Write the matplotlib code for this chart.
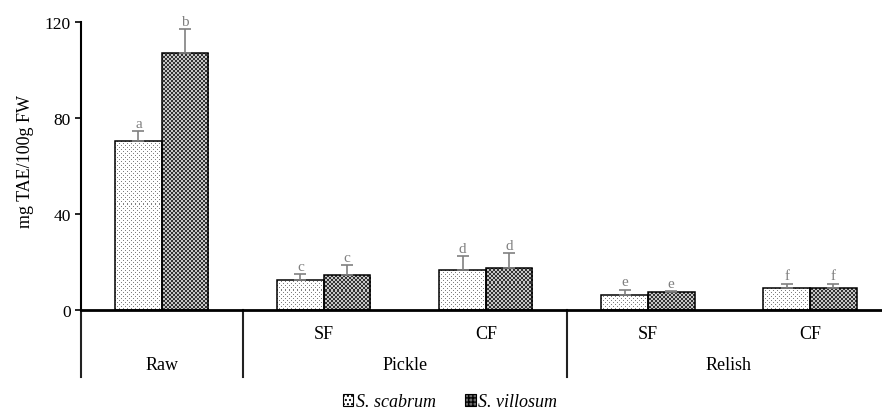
import numpy as np
import matplotlib
matplotlib.use("Agg")
import matplotlib.pyplot as plt
from matplotlib.patches import Patch
from matplotlib.transforms import blended_transform_factory

plt.rcParams['font.family'] = ['Liberation Serif', 'DejaVu Serif']

# ---- data ----
sub_labels = ['', 'SF', 'CF', 'SF', 'CF']
group_labels = ['Raw', 'Pickle', 'Relish']
group_spans = [(0, 0), (1, 2), (3, 4)]
series_names = ['S. scabrum', 'S. villosum']
scabrum = [70.5, 12.6, 16.5, 6.2, 9.0]
scabrum_err = [4.0, 2.4, 6.0, 2.2, 2.0]
villosum = [107.0, 14.6, 17.6, 7.4, 9.0]
villosum_err = [10.0, 4.0, 6.0, 0.5, 2.0]
scabrum_letters = ['a', 'c', 'd', 'e', 'f']
villosum_letters = ['b', 'c', 'd', 'e', 'f']
yticks = [0, 40, 80, 120]

W, H, DPI = 882, 414, 100
fig = plt.figure(figsize=(W / DPI, H / DPI), dpi=DPI)
left_px, right_px, top_px, bot_px = 80.7, 891.0, 23.0, 311.0
ax = fig.add_axes([left_px / W, (H - bot_px) / H, (right_px - left_px) / W, (bot_px - top_px) / H])
ax.set_xlim(-0.5, 4.5)
ax.set_ylim(0, 120)

x = np.arange(len(scabrum))
bw = 0.2875
bars_s = ax.bar(x - bw / 2, scabrum, bw, facecolor='none', edgecolor='black', linewidth=1.1, zorder=3)
bars_v = ax.bar(x + bw / 2, villosum, bw, facecolor='none', edgecolor='black', linewidth=1.1, zorder=3)

# pattern fills
aw = int(round(right_px - left_px))
ah = int(round(bot_px - top_px))
yy, xx = np.mgrid[0:ah, 0:aw]
dots = np.ones((ah, aw, 3))
dmask = ((yy % 4 == 0) & (xx % 4 == 0)) | ((yy % 4 == 2) & (xx % 4 == 2))
dots[dmask] = 0.5
checker = np.where(((yy // 2 + xx // 2) % 2 == 0)[..., None], 0.2, 0.78) * np.ones((1, 1, 3))
ext = (-0.5, 4.5, 0, 120)
for bars, pat in ((bars_s, dots), (bars_v, checker)):
    for b in bars:
        im = ax.imshow(pat, extent=ext, origin='upper', interpolation='nearest', aspect='auto', zorder=2)
        im.set_clip_path(b)
ax.set_xlim(-0.5, 4.5)
ax.set_ylim(0, 120)

# error bars (upper only)
ecol = '#808080'
for xs, vals, errs, lets in ((x - bw / 2, scabrum, scabrum_err, scabrum_letters),
                            (x + bw / 2, villosum, villosum_err, villosum_letters)):
    ax.errorbar(xs, vals, yerr=[np.zeros(len(errs)), errs], fmt='none', ecolor=ecol,
                elinewidth=1.2, capsize=4.5, capthick=1.2, zorder=4)
    for xi, v, e, l in zip(xs, vals, errs, lets):
        ax.text(xi, v + e + 0.6, l, ha='center', va='bottom', fontsize=11, color=ecol)

# axes styling
for s in ('top', 'right'):
    ax.spines[s].set_visible(False)
ax.spines['left'].set_linewidth(1.5)
ax.spines['bottom'].set_linewidth(2.0)
ax.set_yticks(yticks)
ax.set_yticklabels([str(t) for t in yticks], fontsize=12.5)
ax.tick_params(axis='y', length=4, width=1.2, pad=3)
ax.set_xticks([])

# multi-level category axis
tr = blended_transform_factory(ax.transData, ax.transAxes)
sep_bottom = -(378 - bot_px) / (bot_px - top_px)
for xs in (-0.5, 0.5, 2.5):
    ax.plot([xs, xs], [0, sep_bottom], transform=tr, color='#222222', lw=1.5, clip_on=False)
lvl1_y = -(335 - bot_px) / (bot_px - top_px)
lvl2_y = -(366 - bot_px) / (bot_px - top_px)
for xi, lab in zip(x, sub_labels):
    if lab:
        ax.text(xi, lvl1_y, lab, transform=tr, ha='center', va='center', fontsize=13)
for (a, b), lab in zip(group_spans, group_labels):
    ax.text((a + b) / 2, lvl2_y, lab, transform=tr, ha='center', va='center', fontsize=13)

fig.text(25 / W, (H - 162) / H, 'mg TAE/100g FW', rotation=90, ha='center', va='center', fontsize=13)

handles = [Patch(facecolor='white', edgecolor='black', hatch='....', linewidth=0.8),
           Patch(facecolor='#6a6a6a', edgecolor='black', hatch='++++', linewidth=0.8)]
fig.legend(handles, series_names, loc='center', bbox_to_anchor=(450 / W, (H - 403) / H), ncol=2,
           frameon=False, handlelength=0.6, handleheight=0.6, handletextpad=0.15, columnspacing=1.6,
           prop={'family': 'Liberation Serif', 'style': 'italic', 'size': 13})

fig.savefig('out.png', dpi=DPI)
